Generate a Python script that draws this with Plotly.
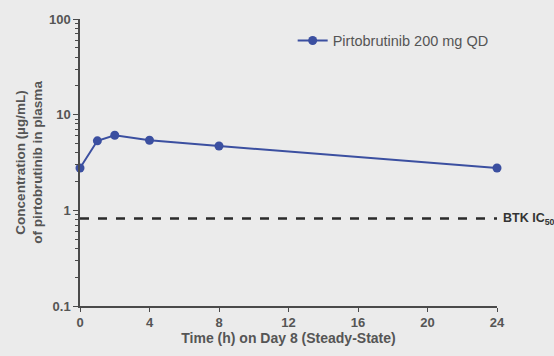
import math
import plotly.graph_objects as go

# Steady-state PK profile, Day 8
time_h = [0, 1, 2, 4, 8, 24]
conc_ug_ml = [2.77, 5.33, 6.1, 5.4, 4.7, 2.77]
series_name = "Pirtobrutinib 200 mg QD"
btk_ic50 = 0.82
x_ticks = [0, 4, 8, 12, 16, 20, 24]
y_ticks = [0.1, 1, 10, 100]
y_tick_text = ["0.1", "1", "10", "100"]

BG = "#ebebeb"
AX = "#4a4a4a"
BLUE = "#3b4fa0"
FONT = "Liberation Sans"

fig = go.Figure()

fig.add_trace(go.Scatter(
    x=[x_ticks[0], x_ticks[-1]], y=[btk_ic50, btk_ic50],
    mode="lines", line=dict(color="#2a2a2a", width=2.5, dash="dash"),
    showlegend=False, hoverinfo="skip",
))

fig.add_trace(go.Scatter(
    x=time_h, y=conc_ug_ml, mode="lines+markers", name=series_name,
    line=dict(color=BLUE, width=2),
    marker=dict(color=BLUE, size=9),
    cliponaxis=False,
))

# label for the IC50 reference line (log axis -> position in log10 units)
fig.add_annotation(
    x=1, xref="paper", y=math.log10(btk_ic50), yref="y", yanchor="middle",
    xanchor="left", xshift=4, showarrow=False,
    text="<b>BTK IC<sub>50</sub></b>",
    font=dict(family=FONT, size=12.5, color="#333"),
)

fig.update_layout(
    width=554, height=356,
    paper_bgcolor=BG, plot_bgcolor=BG,
    margin=dict(l=80, r=57, t=15, b=48),
    font=dict(family=FONT, color="#444"),
    legend=dict(x=0.51, y=0.925, xanchor="left", yanchor="middle",
                bgcolor="rgba(0,0,0,0)", font=dict(size=14.5, color="#555")),
    xaxis=dict(
        range=[0, 24], tickvals=x_ticks, showgrid=False, zeroline=False,
        showline=True, linecolor=AX, linewidth=1.5,
        ticks="outside", ticklen=4, tickcolor=AX,
        tickfont=dict(size=13, weight="bold", color="#555"),
        title=dict(text="<b>Time (h) on Day 8 (Steady-State)</b>",
                   font=dict(size=14, color="#555"), standoff=4),
    ),
    yaxis=dict(
        type="log", range=[-1, 2], tickvals=y_ticks, ticktext=y_tick_text,
        showgrid=False, zeroline=False,
        showline=True, linecolor=AX, linewidth=1.5,
        ticks="outside", ticklen=5, tickcolor=AX,
        tickfont=dict(size=13, weight="bold", color="#555"),
        minor=dict(ticks="outside", ticklen=3, tickcolor=AX,
                   tickvals=[m * 10 ** e for e in (-1, 0, 1) for m in range(2, 10)]),
        title=dict(text="<b>Concentration (µg/mL)<br>of pirtobrutinib in plasma</b>",
                   font=dict(size=13.5, color="#555"), standoff=3),
    ),
)

fig.write_html("out.html")
